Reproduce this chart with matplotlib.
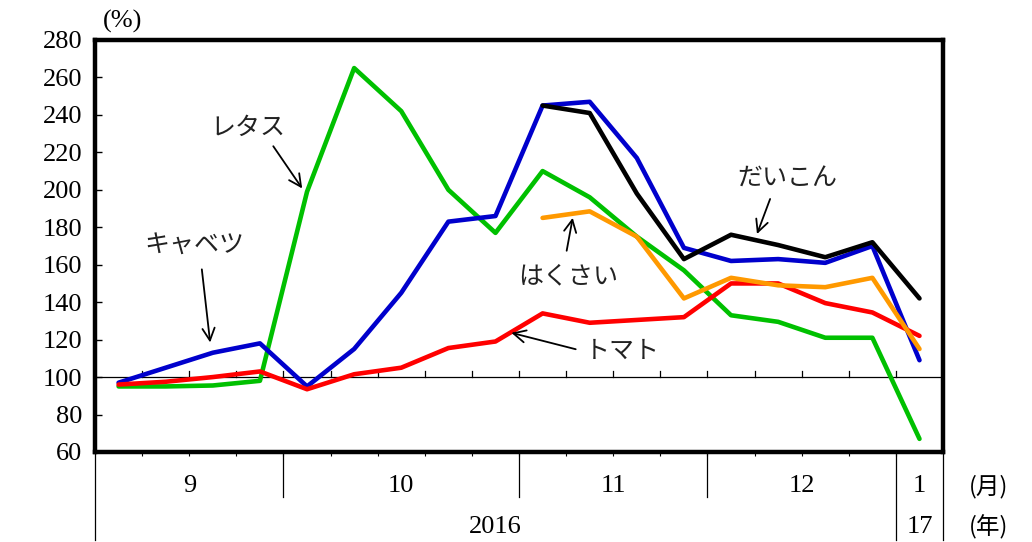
import matplotlib
matplotlib.use('Agg')
import matplotlib.pyplot as plt

plt.rcParams['font.family'] = ['Liberation Serif', 'Noto Sans CJK JP']
JP = ['Noto Sans CJK JP', 'DejaVu Sans']

# weekly data, Sep 2016 - Jan 2017 (index 0..17)
months = ['9', '10', '11', '12', '1']
month_bounds = [-0.5, 3.5, 8.5, 12.5, 16.5, 17.5]
years = ['2016', '17']
year_bounds = [-0.5, 16.5, 17.5]

lettuce = [95, 95, 95.5, 98, 199, 265, 242, 200, 177, 210, 196, 175, 157, 133, 129.5, 121, 121, 67]
cabbage = [97, 105, 113, 118, 95, 115, 145, 183, 186, 245, 247, 217, 169, 162, 163, 161, 170, 109]
tomato = [96, 97.5, 100, 103, 93.5, 101.5, 105, 115.5, 119, 134, 129, 130.5, 132, 150, 150, 139.5, 134.5, 122]
daikon = [245, 241, 198, 163, 176, 170.5, 164, 172, 142]   # from index 9
chinese_cabbage = [185, 188.5, 175, 142, 153, 149, 148, 153, 115]  # from index 9

x_all = list(range(18))
x_late = list(range(9, 18))

fig = plt.figure(figsize=(10.32, 5.42), dpi=100)
ax = fig.add_axes([0.0921, 0.1661, 0.8217, 0.7601])

lw = 3.3
ax.plot(x_all, lettuce, color='#00c000', lw=lw, solid_capstyle='round', zorder=3)
ax.plot(x_all, cabbage, color='#0000cc', lw=lw, solid_capstyle='round', zorder=3)
ax.plot(x_all, tomato, color='#ff0000', lw=lw, solid_capstyle='round', zorder=3)
ax.plot(x_late, chinese_cabbage, color='#ff9900', lw=lw, solid_capstyle='round', zorder=4)
ax.plot(x_late, daikon, color='black', lw=lw, solid_capstyle='round', zorder=5)

ax.set_xlim(-0.5, 17.5)
ax.set_ylim(60, 280)

# 100 line with small week ticks
ax.axhline(100, color='black', lw=0.9, zorder=2)
for b in range(17):
    ax.plot([b + 0.5, b + 0.5], [100, 103.5], color='black', lw=0.9, zorder=2)

for s in ax.spines.values():
    s.set_linewidth(3.2)

ax.set_yticks(range(60, 281, 20))
ax.tick_params(axis='y', direction='in', length=5, width=1, labelsize=19, pad=9)
ax.set_xticks([b + 0.5 for b in range(17)])
ax.set_xticklabels([])
ax.tick_params(axis='x', direction='out', length=3, width=0.8)

# category axis below the box
tr = ax.get_xaxis_transform()
for b in month_bounds:
    yb = -0.214 if b in year_bounds else -0.109
    ax.plot([b, b], [0, yb], color='black', lw=0.9, transform=tr, clip_on=False)
for i, m in enumerate(months):
    xc = (month_bounds[i] + month_bounds[i + 1]) / 2
    ax.text(xc, -0.083, m, transform=tr, ha='center', va='center', fontsize=19)
for i, yr in enumerate(years):
    xc = (year_bounds[i] + year_bounds[i + 1]) / 2
    ax.text(xc, -0.183, yr, transform=tr, ha='center', va='center', fontsize=19)
ax.text(18.47, -0.083, '(月)', transform=tr, ha='center', va='center', fontsize=17, family=JP)
ax.text(18.47, -0.183, '(年)', transform=tr, ha='center', va='center', fontsize=17, family=JP)
ax.text(0.032, 1.045, '(%)', transform=ax.transAxes, ha='center', va='center', fontsize=19)

# labels with arrows
arrow = dict(arrowstyle='->', color='black', lw=1.3, mutation_scale=22)
ax.annotate('', xy=(3.93, 199.5), xytext=(3.25, 224.5), arrowprops=arrow)
ax.text(2.75, 233, 'レタス', ha='center', va='center', fontsize=18, family=JP, color='#222222')
ax.annotate('', xy=(1.95, 117), xytext=(1.76, 159), arrowprops=arrow)
ax.text(1.6, 170, 'キャベツ', ha='center', va='center', fontsize=18, family=JP, color='#222222')
ax.annotate('', xy=(9.65, 186.5), xytext=(9.5, 166), arrowprops=arrow)
ax.text(9.55, 154, 'はくさい', ha='center', va='center', fontsize=18, family=JP, color='#222222')
ax.annotate('', xy=(8.28, 124), xytext=(9.76, 114.5), arrowprops=arrow)
ax.text(10.7, 114, 'トマト', ha='center', va='center', fontsize=18, family=JP, color='#222222')
ax.annotate('', xy=(13.53, 175), xytext=(13.85, 196.5), arrowprops=arrow)
ax.text(14.2, 206, 'だいこん', ha='center', va='center', fontsize=18, family=JP, color='#222222')

plt.savefig('out.png', dpi=100)
